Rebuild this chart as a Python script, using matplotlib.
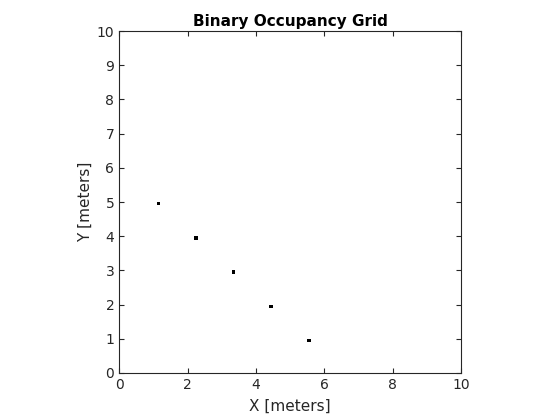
import numpy as np
import matplotlib
matplotlib.use("Agg")
import matplotlib.pyplot as plt

# Occupied cells (lower-left corner, meters), grid resolution 10 cells/m
occ_x = [1.1, 2.2, 3.3, 4.4, 5.5]
occ_y = [4.9, 3.9, 2.9, 1.9, 0.9]
resolution = 10
world = 10
ticks = [0, 2, 4, 6, 8, 10]
yticks = list(range(0, 11))

n = world * resolution
grid = np.zeros((n, n))
for x, y in zip(occ_x, occ_y):
    grid[int(round(y * resolution)), int(round(x * resolution))] = 1

fig = plt.figure(figsize=(5.6, 4.2), dpi=100)
ax = fig.add_axes([0.2125, 0.112, 0.611, 0.814])
ax.imshow(grid, cmap="gray_r", origin="lower", extent=[0, world, 0, world],
          interpolation="nearest", vmin=0, vmax=1, aspect="equal")
ax.set_xlim(0, 10)
ax.set_ylim(0, 10)
ax.set_xticks(ticks)
ax.set_yticks(yticks)
c = (0.15, 0.15, 0.15)
ax.tick_params(direction="in", top=True, right=True, length=3.5, width=0.8,
               colors=c, labelsize=10, labelcolor=c)
for s in ax.spines.values():
    s.set_color(c)
    s.set_linewidth(0.8)
ax.set_xlabel("X [meters]", fontsize=11, color=c, labelpad=5)
ax.set_ylabel("Y [meters]", fontsize=11, color=c, labelpad=3)
ax.set_title("Binary Occupancy Grid", fontsize=11, fontweight="bold", pad=4)
fig.savefig("out.png", dpi=100)
